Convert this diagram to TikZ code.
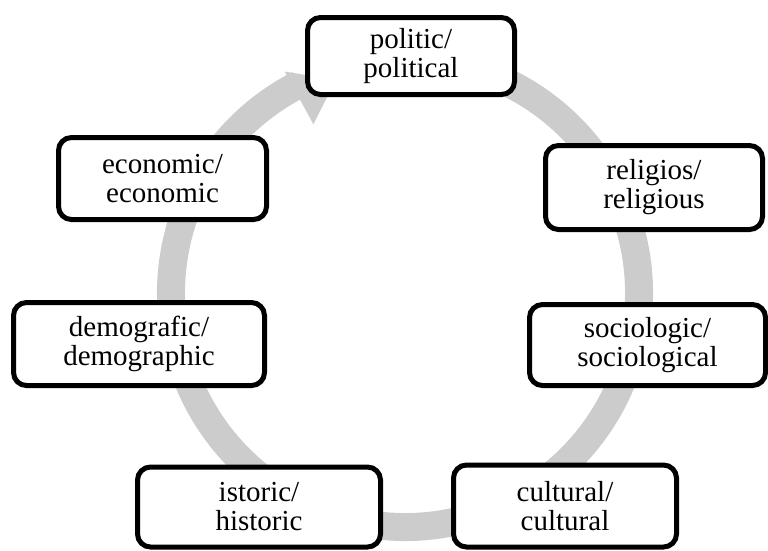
\documentclass[tikz,border=0pt]{standalone}
\usepackage{fontspec}
\setmainfont{Liberation Serif}
\definecolor{ringgray}{RGB}{204,204,204}
\begin{document}
\begin{tikzpicture}[x=1pt,y=1pt,
  box/.style={draw=black, line width=5pt, rounded corners=13pt, fill=white,
    align=center, inner sep=0pt,
    font=\fontsize{29}{29}\selectfont},
]
\useasboundingbox (0,0) rectangle (768,-550);
\coordinate (c) at (405,-293);
% circular arrow
\draw[ringgray, line width=28pt] ([shift={(440:234)}]c) arc[start angle=440, end angle=117, radius=234];
\fill[ringgray] ([shift={(118.5:192)}]c) -- ([shift={(118.5:252)}]c) -- ([shift={(108:224)}]c) -- cycle;
% boxes
\node[box, minimum width=207pt, minimum height=77pt] (politic) at (411,-56) {politic/\\political};
\node[box, minimum width=217pt, minimum height=84pt] (relig) at (654,-187.5) {religios/\\religious};
\node[box, minimum width=236pt, minimum height=81pt] (socio) at (647.5,-345) {sociologic/\\sociological};
\node[box, minimum width=223pt, minimum height=82pt] (cult) at (565,-506) {cultural/\\cultural};
\node[box, minimum width=243pt, minimum height=80pt] (istor) at (259,-507) {istoric/\\historic};
\node[box, minimum width=251pt, minimum height=83pt] (demo) at (139,-344) {demografic/\\demographic};
\node[box, minimum width=208pt, minimum height=82pt] (econ) at (162.5,-178.5) {economic/\\economic};
\end{tikzpicture}
\end{document}
